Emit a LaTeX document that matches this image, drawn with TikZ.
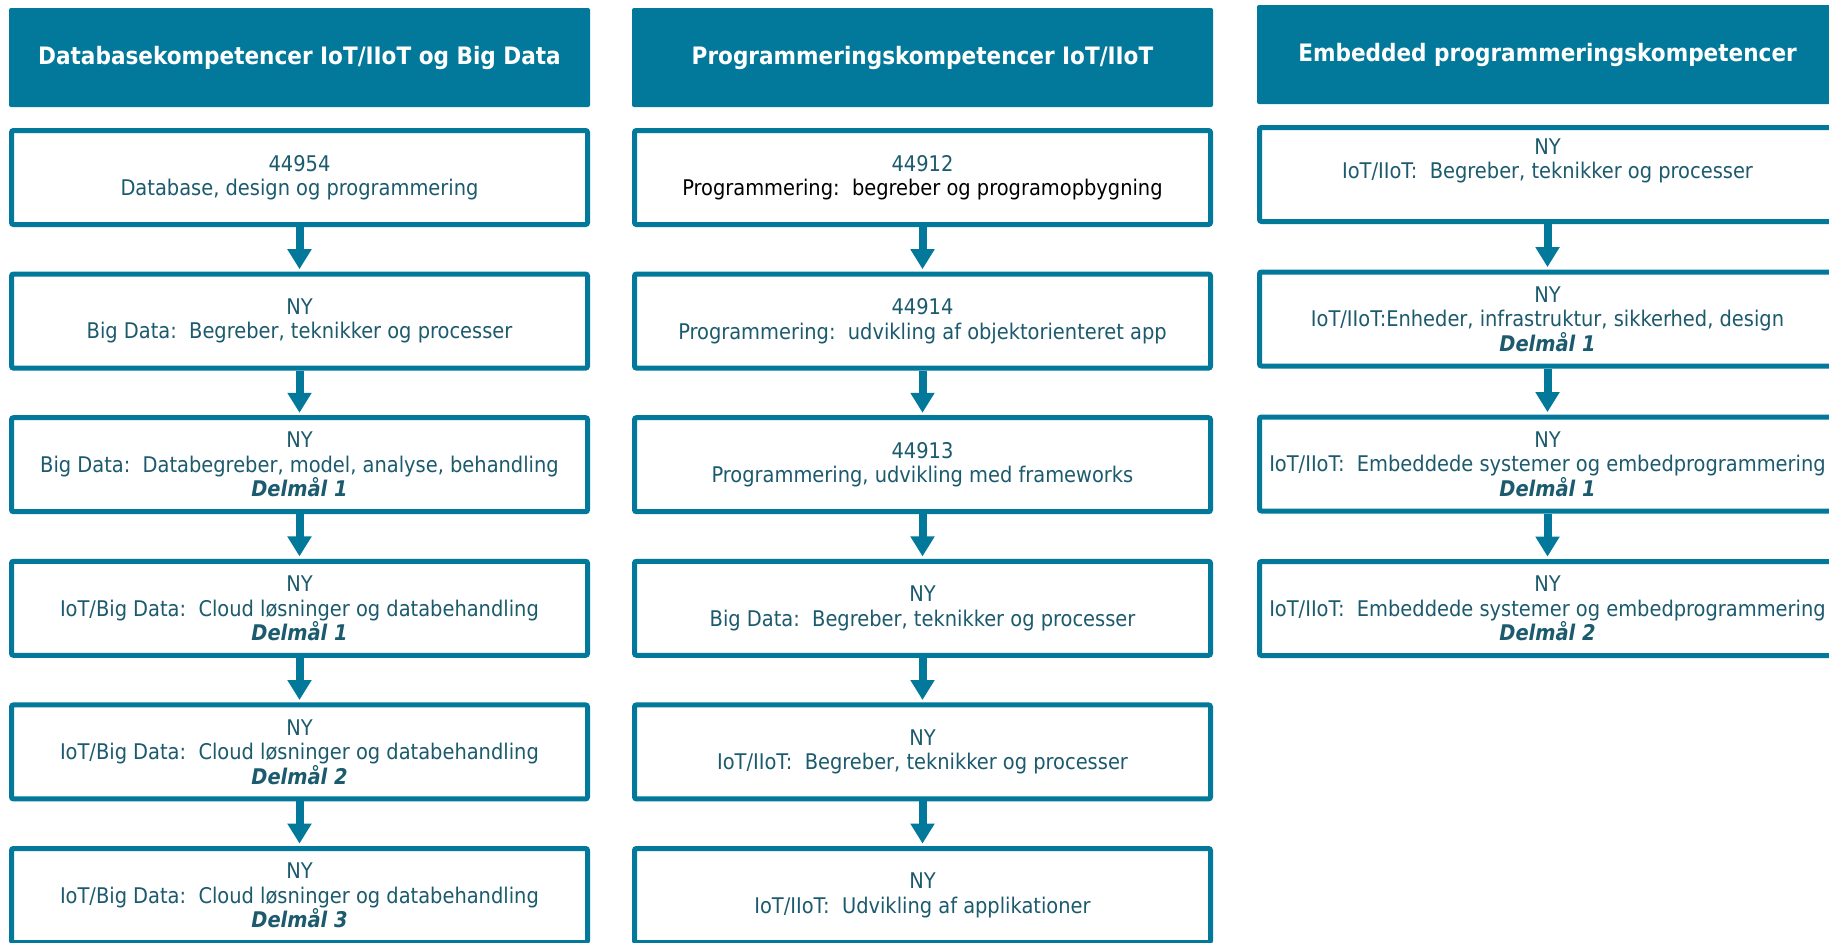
\documentclass[tikz,border=0pt]{standalone}
\usepackage{fontspec}
\setmainfont{DejaVu Sans Condensed}
\usetikzlibrary{arrows.meta}
\definecolor{tealA}{HTML}{02799A}
\definecolor{txtA}{HTML}{1C5A6E}
\tikzset{
  hdr/.style={fill=tealA, rounded corners=1pt, text=white, align=center, inner sep=0pt,
    minimum width=290.5pt, minimum height=49.5pt, font=\fontsize{12}{14}\selectfont\bfseries},
  box/.style={draw=tealA, line width=2.5pt, fill=white, rounded corners=1pt, text=txtA,
    align=center, inner sep=0pt, minimum width=288pt, minimum height=47pt,
    font=\fontsize{10.8}{12.25}\selectfont},
  flow/.style={draw=tealA, line width=4pt, shorten >=1.2pt,
    -{Triangle[width=11.5pt,length=10pt]}}
}
\newcommand{\delm}[1]{\textbf{\textit{Delmål #1}}}
\newcommand{\hd}[1]{\raisebox{-2.5pt}{#1}}
\begin{document}
\begin{tikzpicture}[x=0.5pt,y=-0.5pt]
\useasboundingbox (0,0) rectangle (1829,942);
\clip (0,0) rectangle (1829,942);
\fill[white] (0,0) rectangle (1829,942);

% headers
\node[hdr] (h1) at (299.5,57.5) {\hd{Databasekompetencer IoT/IIoT og Big Data}};
\node[hdr] (h2) at (922.5,57.5) {\hd{Programmeringskompetencer IoT/IIoT}};
\node[hdr] (h3) at (1547.5,54.5) {\hd{Embedded programmeringskompetencer}};

% column 1
\node[box] (a1) at (299.5,177.5) {44954\\Database, design og programmering};
\node[box] (a2) at (299.5,321.1) {NY\\Big Data:\ \ Begreber, teknikker og processer};
\node[box] (a3) at (299.5,464.7) {NY\\Big Data:\ \ Databegreber, model, analyse, behandling\\\delm{1}};
\node[box] (a4) at (299.5,608.3) {NY\\IoT/Big Data:\ \ Cloud løsninger og databehandling\\\delm{1}};
\node[box] (a5) at (299.5,751.9) {NY\\IoT/Big Data:\ \ Cloud løsninger og databehandling\\\delm{2}};
\node[box] (a6) at (299.5,895.5) {NY\\IoT/Big Data:\ \ Cloud løsninger og databehandling\\\delm{3}};

% column 2
\node[box] (b1) at (922.5,177.5) {44912\\\textcolor{black}{Programmering:\ \ begreber og programopbygning}};
\node[box] (b2) at (922.5,321.1) {44914\\Programmering:\ \ udvikling af objektorienteret app};
\node[box] (b3) at (922.5,464.7) {44913\\Programmering, udvikling med frameworks};
\node[box] (b4) at (922.5,608.3) {NY\\Big Data:\ \ Begreber, teknikker og processer};
\node[box] (b5) at (922.5,751.9) {NY\\IoT/IIoT:\ \ Begreber, teknikker og processer};
\node[box] (b6) at (922.5,895.5) {NY\\IoT/IIoT:\ \ Udvikling af applikationer};

% column 3
\node[box] (c1) at (1547.5,174.5) {NY\\IoT/IIoT:\ \ Begreber, teknikker og processer\\\strut};
\node[box] (c2) at (1547.5,319) {NY\\IoT/IIoT:Enheder, infrastruktur, sikkerhed, design\\\delm{1}};
\node[box] (c3) at (1547.5,464) {NY\\IoT/IIoT:\ \ Embeddede systemer og embedprogrammering\\\delm{1}};
\node[box] (c4) at (1547.5,608.5) {NY\\IoT/IIoT:\ \ Embeddede systemer og embedprogrammering\\\delm{2}};

% arrows
\foreach \p/\q in {a1/a2,a2/a3,a3/a4,a4/a5,a5/a6,b1/b2,b2/b3,b3/b4,b4/b5,b5/b6,c1/c2,c2/c3,c3/c4}
  \draw[flow] (\p.south) -- (\q.north);
\end{tikzpicture}
\end{document}
